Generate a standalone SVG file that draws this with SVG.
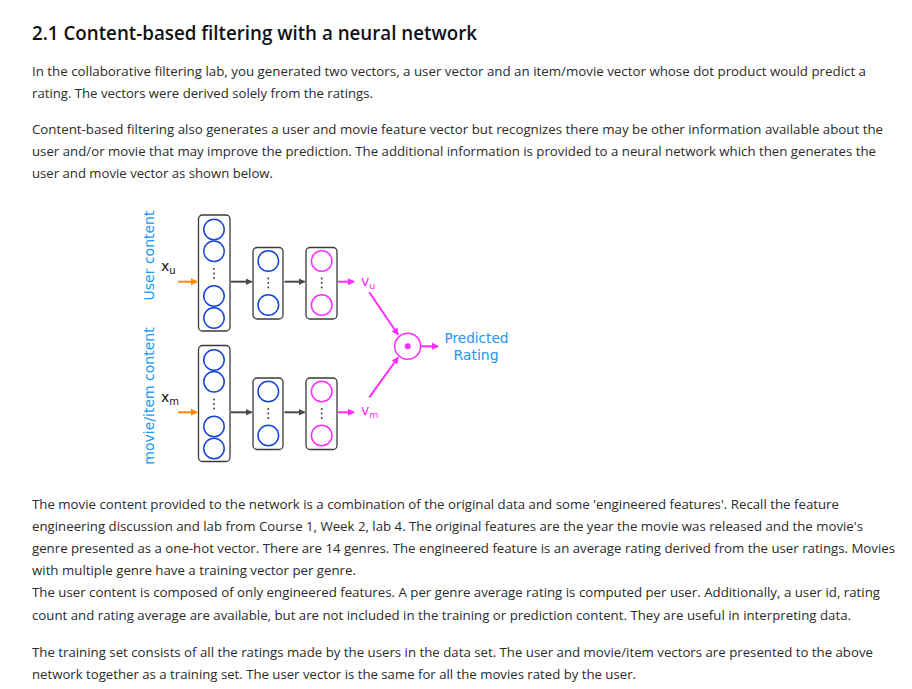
<svg xmlns="http://www.w3.org/2000/svg" width="912" height="689" viewBox="0 0 912 689">
<style>
.t{font-family:"Open Sans","Noto Sans","DejaVu Sans",sans-serif;font-size:13.4px;fill:#2b2b2b}
.h{font-family:"Open Sans","Noto Sans",sans-serif;font-size:20px;font-weight:600;fill:#111}
.d{font-family:"DejaVu Sans",Verdana,sans-serif;font-size:14px}
.lab{fill:#2196f3}
.box{fill:#fff;stroke:#3a3a3a;stroke-width:1.3}
.cb{fill:none;stroke:#1446d8;stroke-width:1.5}
.cm{fill:none;stroke:#ff2bff;stroke-width:1.5}
.dot{fill:#333}
.ao{stroke:#ff8c00;stroke-width:2;fill:none}
.ad{stroke:#4a4a4a;stroke-width:2;fill:none}
.am{stroke:#ff2bff;stroke-width:2;fill:none}
</style>
<defs>
<marker id="mo" markerWidth="8" markerHeight="8" refX="6" refY="4" orient="auto" markerUnits="userSpaceOnUse"><path d="M0,0.5 L7,4 L0,7.5 Z" fill="#ff8c00"/></marker>
<marker id="md" markerWidth="8" markerHeight="8" refX="6" refY="4" orient="auto" markerUnits="userSpaceOnUse"><path d="M0,0.5 L7,4 L0,7.5 Z" fill="#4a4a4a"/></marker>
<marker id="mm" markerWidth="8" markerHeight="8" refX="6" refY="4" orient="auto" markerUnits="userSpaceOnUse"><path d="M0,0.5 L7,4 L0,7.5 Z" fill="#ff2bff"/></marker>
<g id="vdots"><circle cx="0" cy="-4.5" r="0.9" class="dot"/><circle cx="0" cy="0" r="0.9" class="dot"/><circle cx="0" cy="4.5" r="0.9" class="dot"/></g>
</defs>
<rect width="912" height="689" fill="#fff"/>

<g id="text">
<text class="h" x="32" y="40" textLength="445" lengthAdjust="spacingAndGlyphs">2.1 Content-based filtering with a neural network</text>
<text class="t" x="32" y="76" textLength="834" lengthAdjust="spacingAndGlyphs">In the collaborative filtering lab, you generated two vectors, a user vector and an item/movie vector whose dot product would predict a</text>
<text class="t" x="32" y="97.5" textLength="341" lengthAdjust="spacingAndGlyphs">rating. The vectors were derived solely from the ratings.</text>
<text class="t" x="32" y="134" textLength="851" lengthAdjust="spacingAndGlyphs">Content-based filtering also generates a user and movie feature vector but recognizes there may be other information available about the</text>
<text class="t" x="32" y="156" textLength="844" lengthAdjust="spacingAndGlyphs">user and/or movie that may improve the prediction. The additional information is provided to a neural network which then generates the</text>
<text class="t" x="32" y="177.7" textLength="241" lengthAdjust="spacingAndGlyphs">user and movie vector as shown below.</text>
<text class="t" x="32" y="509" textLength="807" lengthAdjust="spacingAndGlyphs">The movie content provided to the network is a combination of the original data and some 'engineered features'. Recall the feature</text>
<text class="t" x="32" y="531" textLength="831" lengthAdjust="spacingAndGlyphs">engineering discussion and lab from Course 1, Week 2, lab 4. The original features are the year the movie was released and the movie's</text>
<text class="t" x="32" y="553" textLength="863" lengthAdjust="spacingAndGlyphs">genre presented as a one-hot vector. There are 14 genres. The engineered feature is an average rating derived from the user ratings. Movies</text>
<text class="t" x="32" y="575" textLength="324" lengthAdjust="spacingAndGlyphs">with multiple genre have a training vector per genre.</text>
<text class="t" x="32" y="597.3" textLength="848" lengthAdjust="spacingAndGlyphs">The user content is composed of only engineered features. A per genre average rating is computed per user. Additionally, a user id, rating</text>
<text class="t" x="32" y="620" textLength="819" lengthAdjust="spacingAndGlyphs">count and rating average are available, but are not included in the training or prediction content. They are useful in interpreting data.</text>
<text class="t" x="32" y="656.7" textLength="841" lengthAdjust="spacingAndGlyphs">The training set consists of all the ratings made by the users in the data set. The user and movie/item vectors are presented to the above</text>
<text class="t" x="32" y="678.5" textLength="604" lengthAdjust="spacingAndGlyphs">network together as a training set. The user vector is the same for all the movies rated by the user.</text>
</g>

<g id="labels">
<text class="d lab" transform="translate(154,255.5) rotate(-90)" text-anchor="middle">User content</text>
<text class="d lab" transform="translate(154,396) rotate(-90)" text-anchor="middle">movie/item content</text>
<text class="d" x="161" y="271" fill="#111">x<tspan font-size="10" dy="3">u</tspan></text>
<text class="d" x="161" y="402" fill="#111">x<tspan font-size="10" dy="3">m</tspan></text>
<text class="d" x="361" y="286" fill="#ff2bff" font-size="13">v<tspan font-size="9.5" dy="3">u</tspan></text>
<text class="d" x="361" y="415" fill="#ff2bff" font-size="13">v<tspan font-size="9.5" dy="3">m</tspan></text>
<text class="d lab" x="476.5" y="343.3" text-anchor="middle" textLength="64" lengthAdjust="spacingAndGlyphs">Predicted</text>
<text class="d lab" x="476" y="360" text-anchor="middle">Rating</text>
</g>

<g id="user-input-layer">
<rect class="box" x="198.5" y="215" width="31.5" height="116" rx="4"/>
<circle class="cb" cx="214" cy="229.5" r="10.2"/>
<circle class="cb" cx="214" cy="251.2" r="10.2"/>
<use href="#vdots" x="214" y="273.5"/>
<circle class="cb" cx="214" cy="296" r="10.2"/>
<circle class="cb" cx="214" cy="318" r="10.2"/>
</g>
<g id="user-hidden-layer">
<rect class="box" x="253" y="247.5" width="30" height="71.5" rx="4"/>
<circle class="cb" cx="268.3" cy="261" r="10.3"/>
<use href="#vdots" x="268.3" y="283"/>
<circle class="cb" cx="268.3" cy="305" r="10.3"/>
</g>
<g id="user-output-layer">
<rect class="box" x="306" y="247.5" width="31" height="71.5" rx="4"/>
<circle class="cm" cx="321.7" cy="261" r="10.3"/>
<use href="#vdots" x="321.7" y="283"/>
<circle class="cm" cx="321.7" cy="305" r="10.3"/>
</g>

<g id="movie-input-layer">
<rect class="box" x="198.5" y="345.5" width="31.5" height="116" rx="4"/>
<circle class="cb" cx="214" cy="360" r="10.2"/>
<circle class="cb" cx="214" cy="381.7" r="10.2"/>
<use href="#vdots" x="214" y="404"/>
<circle class="cb" cx="214" cy="426.5" r="10.2"/>
<circle class="cb" cx="214" cy="448.5" r="10.2"/>
</g>
<g id="movie-hidden-layer">
<rect class="box" x="253" y="378" width="30" height="71.5" rx="4"/>
<circle class="cb" cx="268.3" cy="391.5" r="10.3"/>
<use href="#vdots" x="268.3" y="413.5"/>
<circle class="cb" cx="268.3" cy="435.5" r="10.3"/>
</g>
<g id="movie-output-layer">
<rect class="box" x="306" y="378" width="31" height="71.5" rx="4"/>
<circle class="cm" cx="321.7" cy="391.5" r="10.3"/>
<use href="#vdots" x="321.7" y="413.5"/>
<circle class="cm" cx="321.7" cy="435.5" r="10.3"/>
</g>

<g id="dot-product">
<circle cx="407.7" cy="346.3" r="13" fill="#fff" stroke="#ff2bff" stroke-width="1.5"/>
<circle cx="407.7" cy="346.3" r="3" fill="#ff2bff"/>
</g>

<g id="connectors">
<line class="ao" x1="178" y1="281.7" x2="197" y2="281.7" marker-end="url(#mo)"/>
<line class="ad" x1="231" y1="281.7" x2="251.5" y2="281.7" marker-end="url(#md)"/>
<line class="ad" x1="284.5" y1="281.7" x2="304.5" y2="281.7" marker-end="url(#md)"/>
<line class="am" x1="338" y1="281.7" x2="354" y2="281.7" marker-end="url(#mm)"/>
<line class="ao" x1="178" y1="412.3" x2="197" y2="412.3" marker-end="url(#mo)"/>
<line class="ad" x1="231" y1="412.3" x2="251.5" y2="412.3" marker-end="url(#md)"/>
<line class="ad" x1="284.5" y1="412.3" x2="304.5" y2="412.3" marker-end="url(#md)"/>
<line class="am" x1="338" y1="412.3" x2="354" y2="412.3" marker-end="url(#mm)"/>
<line class="am" x1="369.3" y1="292.3" x2="398" y2="334.5" marker-end="url(#mm)"/>
<line class="am" x1="369.3" y1="397.3" x2="398" y2="357.5" marker-end="url(#mm)"/>
<line class="am" x1="421" y1="346.3" x2="438" y2="346.3" marker-end="url(#mm)"/>
</g>
</svg>
